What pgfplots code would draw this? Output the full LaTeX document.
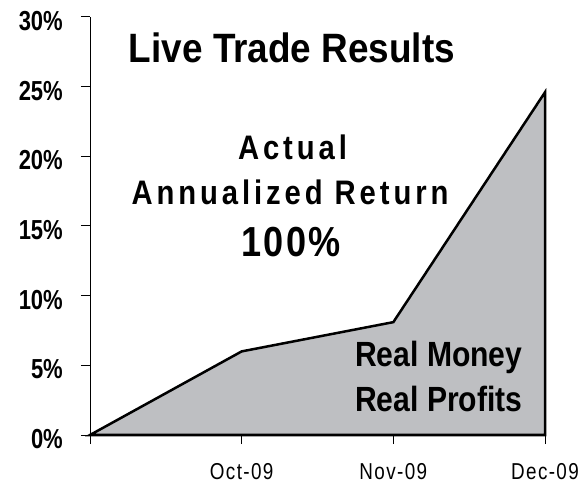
\documentclass[border=0pt]{standalone}
\usepackage{pgfplots}
\pgfplotsset{compat=1.18}
\usepackage{fontspec}
\setmainfont{Liberation Sans}
\newfontfamily\titlefont[FakeStretch=0.9]{Liberation Sans}
\newfontfamily\nfont[FakeStretch=0.86]{Liberation Sans}
\newfontfamily\yfont[FakeStretch=0.8]{Liberation Sans}
\newfontfamily\spacedfont[FakeStretch=0.86, LetterSpace=11.5]{Liberation Sans}
\newfontfamily\hundredfont[FakeStretch=0.86, LetterSpace=5]{Liberation Sans}
\newfontfamily\tickfont[FakeStretch=0.82, LetterSpace=6]{Liberation Sans}
\definecolor{areagray}{RGB}{190,191,194}
\begin{document}
\begin{tikzpicture}
\useasboundingbox (0bp,0bp) rectangle (582bp,483bp);
\begin{axis}[
  at={(90bp,48bp)}, anchor=origin,
  scale only axis, width=455bp, height=418bp,
  xmin=0, xmax=3, ymin=0, ymax=30,
  axis lines=left,
  axis line style={-, line width=1bp, black},
  clip=false,
  ytick={0,5,10,15,20,25,30},
  yticklabels={0\%,5\%,10\%,15\%,20\%,25\%,30\%},
  xtick={0,1,2,3},
  xticklabels={,Oct-09,Nov-09,Dec-09},
  tick align=outside,
  major tick length=9bp,
  tick style={line width=1bp, black},
  minor tick num=0,
  yticklabel style={font=\fontsize{27.5bp}{30bp}\yfont\bfseries, anchor=east, inner sep=0pt, xshift=-18bp, yshift=-4bp},
  xticklabel style={font=\fontsize{23bp}{26bp}\tickfont, anchor=base, inner sep=0pt, yshift=-35bp},
]
\addplot[fill=areagray, draw=black, line width=2.5bp, line join=miter] coordinates {(0,0) (1,6.0) (2,8.1) (3,24.6)} \closedcycle;
\end{axis}
\node[anchor=base, inner sep=0pt, font=\fontsize{41bp}{41bp}\titlefont\bfseries] at (292bp,420bp) {Live Trade Results};
\node[anchor=base, inner sep=0pt, font=\fontsize{34bp}{34bp}\spacedfont\bfseries] at (292.5bp,323.7bp) {Actual};
\node[anchor=base, inner sep=0pt, font=\fontsize{34bp}{34bp}\spacedfont\bfseries] at (290bp,278bp) {Annualized Return};
\node[anchor=base, inner sep=0pt, font=\fontsize{42bp}{42bp}\hundredfont\bfseries] at (291bp,226.3bp) {100\%};
\node[anchor=base, inner sep=0pt, font=\fontsize{35bp}{35bp}\nfont\bfseries] at (438.8bp,116bp) {Real Money};
\node[anchor=base, inner sep=0pt, font=\fontsize{35bp}{35bp}\nfont\bfseries] at (438.8bp,71bp) {Real Profits};
\end{tikzpicture}
\end{document}
